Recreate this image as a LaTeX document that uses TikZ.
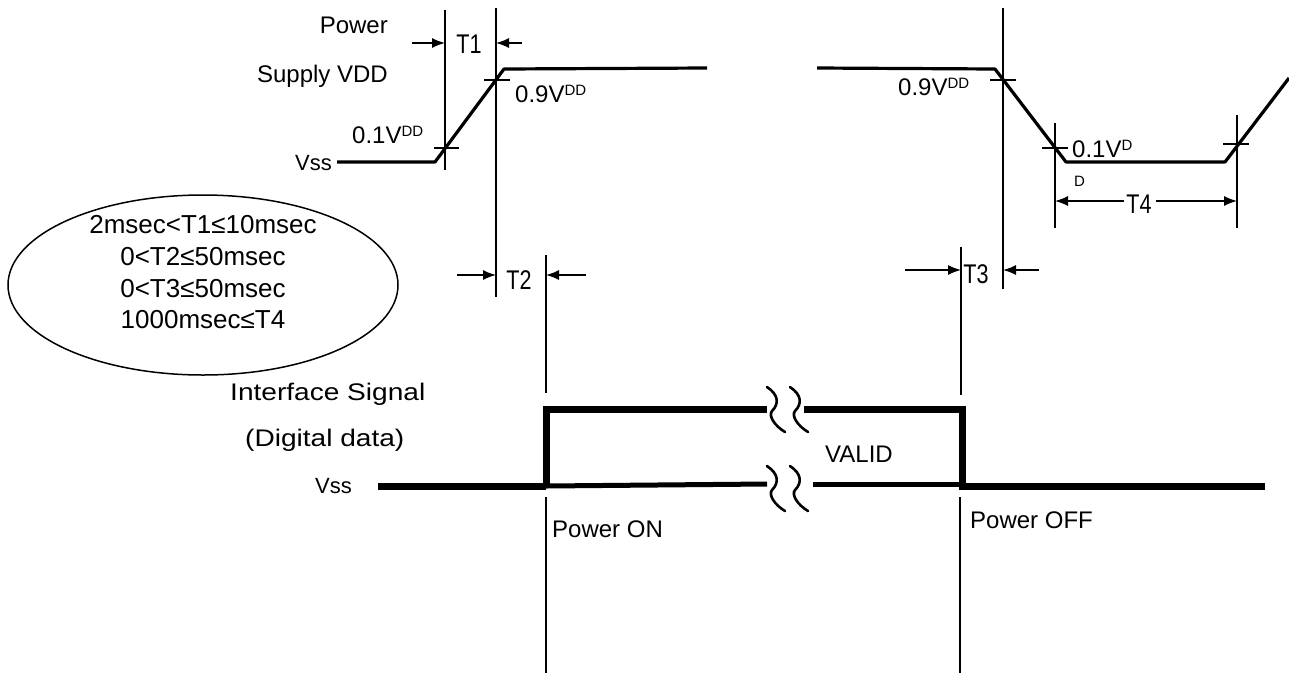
\documentclass[tikz,border=0pt]{standalone}
\usepackage{fontspec}
\setmainfont{Liberation Sans}
\usetikzlibrary{arrows.meta,shapes.geometric}
\newcommand{\fs}[1]{\fontsize{#1}{#1}\selectfont}
\newcommand{\Vsup}[1]{V\raisebox{7pt}{\fs{15}#1}}
\tikzset{
  lbl/.style={inner sep=0pt, font=\fs{24}},
  tlbl/.style={inner sep=0pt, font=\fs{27}},
  spec/.style={inner sep=0pt, font=\fs{26}, anchor=base},
  wave/.style={line width=3.2pt, line join=round},
  sig/.style={line width=7pt},
  siginner/.style={line width=5pt},
  dimline/.style={line width=1.4pt},
  tickmark/.style={line width=1.4pt},
  dimarrow/.style={line width=1.4pt, -{Latex[length=13pt,width=10pt]}},
  brk/.style={line width=2.6pt, line cap=round},
  brkmk/.pic={\draw[brk] (0,-24) .. controls (12,-16) and (12,-7) .. (5,0) .. controls (1,5) and (8,15) .. (18,21);}
}
\begin{document}
\begin{tikzpicture}[x=1pt,y=-1pt]
\useasboundingbox (0,0) rectangle (1289,673);

% ---------- power-on waveform ----------
\coordinate (on0) at (337,162);
\coordinate (on1) at (435,162);
\coordinate (on2) at (504,69);
\coordinate (on3) at (707,68);
\draw[wave] (on0) -- (on1) -- (on2) -- (on3);

\coordinate (t1a) at (445,10);  \coordinate (t1b) at (445,170);
\coordinate (t2a) at (496,8);   \coordinate (t2b) at (496,297);
\draw[dimline] (t1a) -- (t1b);
\draw[dimline] (t2a) -- (t2b);
\coordinate (k1a) at (434,148); \coordinate (k1b) at (459,148);
\coordinate (k2a) at (484,80);  \coordinate (k2b) at (510,80);
\draw[tickmark] (k1a) -- (k1b);
\draw[tickmark] (k2a) -- (k2b);

\coordinate (a1s) at (412,43); \coordinate (a1e) at (445,43);
\coordinate (a1s2) at (522,43); \coordinate (a1e2) at (496,43);
\draw[dimarrow] (a1s) -- (a1e);
\draw[dimarrow] (a1s2) -- (a1e2);

\node[lbl, anchor=base east] (power) at (388,33) {Power};
\node[lbl, anchor=base east] (supply) at (388,82) {Supply VDD};
\node[lbl, font=\fs{22}, anchor=base east] (vsstop) at (332,170) {Vss};
\node[lbl, anchor=base west] (on01) at (352,143) {0.1\Vsup{DD}};
\node[lbl, anchor=base west] (on09) at (515,102) {0.9\Vsup{DD}};
\node[tlbl, anchor=base] (T1) at (469,53) {\scalebox{0.8}[1]{T1}};

% ---------- power-off waveform ----------
\coordinate (of0) at (817,68);
\coordinate (of1) at (995,69);
\coordinate (of2) at (1066,162);
\coordinate (of3) at (1225,162);
\coordinate (of4) at (1289,78);
\draw[wave] (of0) -- (of1) -- (of2) -- (of3) -- (of4);

\coordinate (t3ra) at (1003,8);   \coordinate (t3rb) at (1003,289);
\draw[dimline] (t3ra) -- (t3rb);
\coordinate (t4la) at (1055,123); \coordinate (t4lb) at (1055,228);
\coordinate (t4ra) at (1237,115); \coordinate (t4rb) at (1237,228);
\draw[dimline] (t4la) -- (t4lb);
\draw[dimline] (t4ra) -- (t4rb);
\coordinate (k3a) at (990,80);   \coordinate (k3b) at (1016,80);
\coordinate (k4a) at (1042,148); \coordinate (k4b) at (1068,148);
\coordinate (k5a) at (1223,144); \coordinate (k5b) at (1249,144);
\draw[tickmark] (k3a) -- (k3b);
\draw[tickmark] (k4a) -- (k4b);
\draw[tickmark] (k5a) -- (k5b);

\node[lbl, anchor=base west] (of09) at (898,95) {0.9\Vsup{DD}};
\node[lbl, anchor=base west] (of01) at (1072,157) {0.1\Vsup{D}};
\node[lbl, font=\fs{15}, anchor=base west] (ofD) at (1074,186) {D};
\node[tlbl, anchor=base] (T4) at (1139,213) {\scalebox{0.8}[1]{T4}};
\coordinate (a4s) at (1124,201); \coordinate (a4e) at (1055,201);
\coordinate (a4s2) at (1156,201); \coordinate (a4e2) at (1237,201);
\draw[dimarrow] (a4s) -- (a4e);
\draw[dimarrow] (a4s2) -- (a4e2);

% ---------- T2 / T3 ----------
\coordinate (t2ra) at (546,255); \coordinate (t2rb) at (546,393);
\coordinate (t2rc) at (546,497); \coordinate (t2rd) at (546,673);
\draw[dimline] (t2ra) -- (t2rb);
\draw[dimline] (t2rc) -- (t2rd);
\coordinate (t3la) at (961,247); \coordinate (t3lb) at (961,395);
\coordinate (t3lc) at (960,497); \coordinate (t3ld) at (960,673);
\draw[dimline] (t3la) -- (t3lb);
\draw[dimline] (t3lc) -- (t3ld);

\coordinate (a2s) at (457,275); \coordinate (a2e) at (496,275);
\coordinate (a2s2) at (586,275); \coordinate (a2e2) at (546,275);
\draw[dimarrow] (a2s) -- (a2e);
\draw[dimarrow] (a2s2) -- (a2e2);
\node[tlbl, anchor=base] (T2) at (519,289) {\scalebox{0.8}[1]{T2}};

\coordinate (a3s) at (905,270); \coordinate (a3e) at (961,270);
\coordinate (a3s2) at (1039,270); \coordinate (a3e2) at (1003,270);
\draw[dimarrow] (a3s) -- (a3e);
\draw[dimarrow] (a3s2) -- (a3e2);
\node[tlbl, anchor=base] (T3) at (976,283) {\scalebox{0.8}[1]{T3}};

% ---------- interface signal ----------
\coordinate (s0) at (378,486);
\coordinate (s1) at (546,486);
\coordinate (s2) at (546,409);
\coordinate (s3) at (767,409);
\coordinate (s4) at (804,409);
\coordinate (s5) at (962,409);
\coordinate (s6) at (962,486);
\coordinate (s7) at (1265,486);
\coordinate (b1) at (767,484);
\coordinate (b2) at (813,484);
\coordinate (b3) at (962,484);
\draw[sig] (s0) -- (s1);
\draw[sig, line join=miter] (s1) -- (s2) -- (s3);
\draw[sig, line join=miter] (s4) -- (s5) -- (s6) -- (s7);
\draw[siginner] (s1) -- (b1);
\draw[siginner] (b2) -- (b3);

\pic at (767,411) {brkmk};
\pic at (790,411) {brkmk};
\pic at (767,490) {brkmk};
\pic at (790,490) {brkmk};

\node[lbl, anchor=base west] (iface) at (230,400) {\scalebox{1.17}[1]{Interface Signal}};
\node[lbl, anchor=base west] (digdata) at (245,446) {\scalebox{1.17}[1]{(Digital data)}};
\node[lbl, font=\fs{22}, anchor=base west] (vssbot) at (315,493) {Vss};
\node[lbl, anchor=base west] (valid) at (825,462) {VALID};
\node[lbl, anchor=base west] (pon) at (552,537) {Power ON};
\node[lbl, anchor=base west] (poff) at (970,528) {Power OFF};

% ---------- spec ellipse ----------
\node[draw, ellipse, line width=1.5pt, minimum width=390pt, minimum height=180pt, inner sep=0pt] (specell) at (203,285) {};
\node[spec] (spec1) at (203,233) {2msec<T1≤10msec};
\node[spec] (spec2) at (203,265) {0<T2≤50msec};
\node[spec] (spec3) at (203,297) {0<T3≤50msec};
\node[spec] (spec4) at (203,328) {1000msec≤T4};
\end{tikzpicture}
\end{document}
